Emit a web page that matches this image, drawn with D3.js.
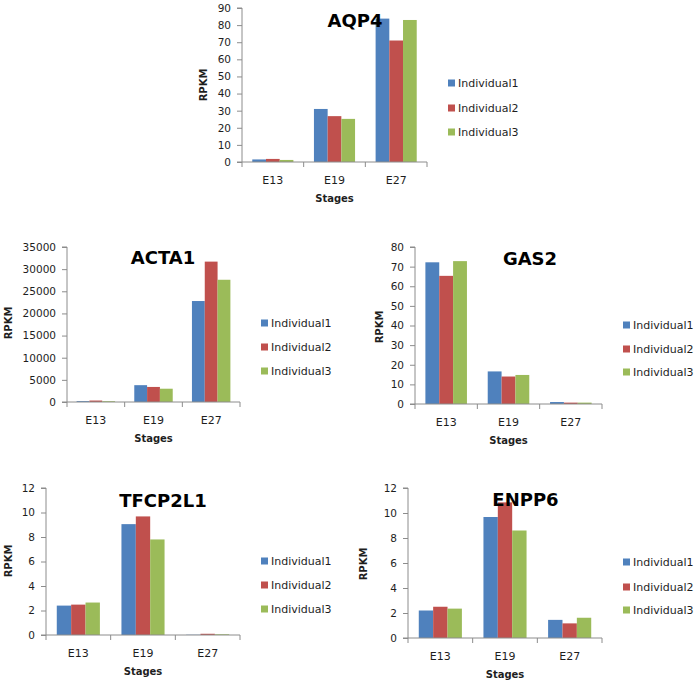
<!DOCTYPE html>
<html>
<head>
<meta charset="utf-8">
<script src="https://cdn.jsdelivr.net/npm/d3@7"></script>
<style>
  html, body { margin: 0; padding: 0; background: #fff; }
  svg { display: block; }
  text { font-family: "DejaVu Sans", sans-serif; }
</style>
</head>
<body>
<svg id="chart" width="700" height="685"></svg>
<script>
// ---------------- DATA ----------------
const stages = ["E13", "E19", "E27"];
const seriesNames = ["Individual1", "Individual2", "Individual3"];

const aqp4Ticks = [0, 10, 20, 30, 40, 50, 60, 70, 80, 90];
const aqp4Ind1 = [1.5, 31, 83.8];
const aqp4Ind2 = [1.8, 26.8, 71];
const aqp4Ind3 = [1.2, 25.2, 83];

const acta1Ticks = [0, 5000, 10000, 15000, 20000, 25000, 30000, 35000];
const acta1Ind1 = [200, 3800, 22800];
const acta1Ind2 = [330, 3400, 31700];
const acta1Ind3 = [180, 3000, 27600];

const gas2Ticks = [0, 10, 20, 30, 40, 50, 60, 70, 80];
const gas2Ind1 = [72.2, 16.6, 1.0];
const gas2Ind2 = [65.3, 14.0, 0.7];
const gas2Ind3 = [72.8, 14.8, 0.7];

const tfcp2l1Ticks = [0, 2, 4, 6, 8, 10, 12];
const tfcp2l1Ind1 = [2.4, 9.05, 0.02];
const tfcp2l1Ind2 = [2.48, 9.68, 0.1];
const tfcp2l1Ind3 = [2.65, 7.8, 0.06];

const enpp6Ticks = [0, 2, 4, 6, 8, 10, 12];
const enpp6Ind1 = [2.2, 9.68, 1.45];
const enpp6Ind2 = [2.5, 10.85, 1.17];
const enpp6Ind3 = [2.35, 8.6, 1.62];

const colors = ["#4F81BD", "#C0504D", "#9BBB59"];

// ---------------- LAYOUT ----------------
const panels = [
  { title: "AQP4", ticks: aqp4Ticks, series: [aqp4Ind1, aqp4Ind2, aqp4Ind3],
    x0: 242, x1: 427, yTop: 8, yBot: 162, titleX: 355, titleY: 27,
    legX: 448, legY: [83, 108, 132], ylabX: 203, ylabY: 85 },
  { title: "ACTA1", ticks: acta1Ticks, series: [acta1Ind1, acta1Ind2, acta1Ind3],
    x0: 67, x1: 240, yTop: 247, yBot: 402, titleX: 163, titleY: 264,
    legX: 261, legY: [323, 347, 371], ylabX: 8, ylabY: 323 },
  { title: "GAS2", ticks: gas2Ticks, series: [gas2Ind1, gas2Ind2, gas2Ind3],
    x0: 415, x1: 602, yTop: 247, yBot: 404, titleX: 530, titleY: 265,
    legX: 623, legY: [325, 349, 372], ylabX: 379, ylabY: 327 },
  { title: "TFCP2L1", ticks: tfcp2l1Ticks, series: [tfcp2l1Ind1, tfcp2l1Ind2, tfcp2l1Ind3],
    x0: 46, x1: 240, yTop: 488, yBot: 635, titleX: 163, titleY: 507,
    legX: 261, legY: [561, 585, 609], ylabX: 8, ylabY: 561 },
  { title: "ENPP6", ticks: enpp6Ticks, series: [enpp6Ind1, enpp6Ind2, enpp6Ind3],
    x0: 408, x1: 602, yTop: 488, yBot: 638, titleX: 525.5, titleY: 506,
    legX: 623, legY: [562, 587, 610], ylabX: 363, ylabY: 564 }
];

const svg = d3.select("#chart");
const axisColor = "#8c8c8c";
const textColor = "#1e1e1e";

panels.forEach(p => {
  const g = svg.append("g");
  const yMax = p.ticks[p.ticks.length - 1];
  const y = d3.scaleLinear().domain([0, yMax]).range([p.yBot, p.yTop]);
  const x = d3.scaleBand().domain(stages).range([p.x0, p.x1])
    .paddingInner(1 / 3).paddingOuter(1 / 6);
  const xs = d3.scaleBand().domain(d3.range(seriesNames.length)).range([0, x.bandwidth()]);

  // bars
  seriesNames.forEach((name, si) => {
    g.selectAll(null)
      .data(stages.map((s, i) => ({ s, v: p.series[si][i] })))
      .enter().append("rect")
      .attr("x", d => x(d.s) + xs(si))
      .attr("width", xs.bandwidth())
      .attr("y", d => y(d.v))
      .attr("height", d => p.yBot - y(d.v))
      .attr("fill", colors[si]);
  });

  // y axis
  const yAxis = d3.axisLeft(y).tickValues(p.ticks).tickSize(5).tickPadding(6)
    .tickFormat(d3.format("d"));
  const ya = g.append("g").attr("transform", `translate(${p.x0},0)`).call(yAxis);
  ya.select(".domain").attr("stroke", axisColor).attr("d", `M-5,${p.yTop}H0V${p.yBot}`);
  ya.selectAll(".tick line").attr("stroke", axisColor);
  ya.selectAll(".tick text").attr("fill", textColor).style("font-size", "10.5px")
    .style("font-family", "DejaVu Sans");

  // x axis line with band-boundary ticks
  const xa = g.append("g").attr("transform", `translate(0,${p.yBot})`);
  xa.append("line").attr("x1", p.x0 - 5).attr("x2", p.x1).attr("y1", 0).attr("y2", 0)
    .attr("stroke", axisColor);
  const step = x.step();
  const bounds = d3.range(stages.length + 1).map(i => p.x0 + i * step);
  xa.selectAll(null).data(bounds).enter().append("line")
    .attr("x1", d => d).attr("x2", d => d).attr("y1", 0).attr("y2", 5)
    .attr("stroke", axisColor);
  xa.selectAll(null).data(stages).enter().append("text")
    .attr("x", d => x(d) + x.bandwidth() / 2).attr("y", 22)
    .attr("text-anchor", "middle").attr("fill", textColor)
    .style("font-size", "11px").text(d => d);

  // axis titles
  g.append("text").attr("x", (p.x0 + p.x1) / 2).attr("y", p.yBot + 40)
    .attr("text-anchor", "middle").attr("fill", textColor)
    .style("font-size", "10px").style("font-weight", "bold").text("Stages");
  g.append("text").attr("transform", `translate(${p.ylabX + 3.5},${p.ylabY}) rotate(-90)`)
    .attr("text-anchor", "middle").attr("fill", textColor)
    .style("font-size", "10px").style("font-weight", "bold").text("RPKM");

  // legend
  seriesNames.forEach((name, si) => {
    g.append("rect").attr("x", p.legX).attr("y", p.legY[si] - 3.5)
      .attr("width", 7).attr("height", 7).attr("fill", colors[si]);
    g.append("text").attr("x", p.legX + 10).attr("y", p.legY[si] + 4)
      .attr("fill", textColor).style("font-size", "11px").text(name);
  });

  // chart title (drawn on top)
  g.append("text").attr("x", p.titleX).attr("y", p.titleY)
    .attr("text-anchor", "middle").attr("fill", "#000")
    .style("font-size", "18px").style("font-weight", "bold").text(p.title);
});
</script>
</body>
</html>
